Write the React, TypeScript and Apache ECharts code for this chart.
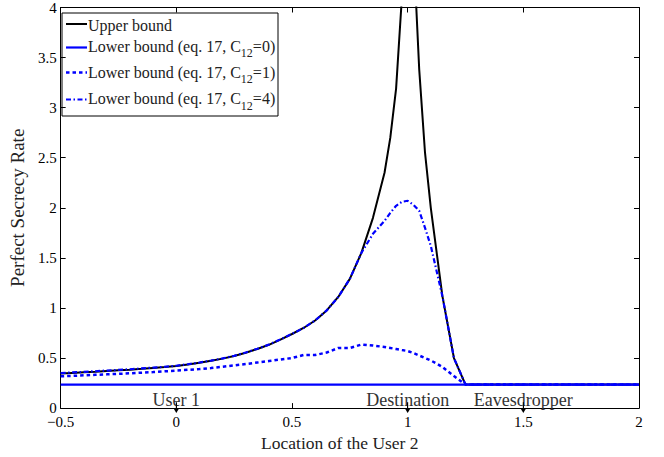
import React, { useEffect, useRef } from 'react';
import * as echarts from 'echarts';

// Location of User 2 (x axis samples)
const xs = [
  -0.5, -0.45, -0.4, -0.35, -0.3, -0.25, -0.2, -0.15, -0.1, -0.05,
  0, 0.05, 0.1, 0.15, 0.2, 0.25, 0.3, 0.35, 0.4, 0.45,
  0.5, 0.55, 0.6, 0.65, 0.7, 0.75, 0.8, 0.85, 0.9, 0.925,
  0.95, 0.975, 1.0, 1.025, 1.05, 1.075, 1.1, 1.125, 1.15, 1.2,
  1.25, 1.3, 1.5, 2.0,
];

const upperBound = [
  0.345, 0.351, 0.357, 0.363, 0.37, 0.377, 0.384, 0.392, 0.401, 0.41,
  0.42, 0.436, 0.453, 0.472, 0.494, 0.52, 0.553, 0.59, 0.632, 0.684,
  0.74, 0.8, 0.875, 0.975, 1.11, 1.29, 1.55, 1.9, 2.35, 2.7,
  3.19, 4.1, 5.5, 4.6, 3.38, 2.55, 2.0, 1.56, 1.12, 0.5,
  0.235, 0.235, 0.235, 0.235,
];

const lowerC0 = [
  0.235, 0.235, 0.235, 0.235, 0.235, 0.235, 0.235, 0.235, 0.235, 0.235,
  0.235, 0.235, 0.235, 0.235, 0.235, 0.235, 0.235, 0.235, 0.235, 0.235,
  0.235, 0.235, 0.235, 0.235, 0.235, 0.235, 0.235, 0.235, 0.235, 0.235,
  0.235, 0.235, 0.235, 0.235, 0.235, 0.235, 0.235, 0.235, 0.235, 0.235,
  0.235, 0.235, 0.235, 0.235,
];

const lowerC1 = [
  0.317, 0.322, 0.327, 0.332, 0.337, 0.342, 0.348, 0.354, 0.36, 0.367,
  0.374, 0.382, 0.39, 0.4, 0.413, 0.426, 0.44, 0.455, 0.47, 0.485,
  0.5, 0.53, 0.53, 0.555, 0.6, 0.6, 0.635, 0.625, 0.61, 0.6,
  0.59, 0.58, 0.57, 0.55, 0.525, 0.5, 0.475, 0.445, 0.41, 0.32,
  0.235, 0.235, 0.235, 0.235,
];

const lowerC4 = [
  0.35, 0.356, 0.362, 0.368, 0.375, 0.381, 0.388, 0.396, 0.404, 0.413,
  0.423, 0.438, 0.455, 0.474, 0.496, 0.522, 0.555, 0.592, 0.634, 0.685,
  0.741, 0.8, 0.875, 0.975, 1.11, 1.29, 1.55, 1.74, 1.87, 1.95,
  2.02, 2.06, 2.07, 2.03, 1.97, 1.8, 1.62, 1.37, 1.12, 0.5,
  0.235, 0.235, 0.235, 0.235,
];

const markerX = [0, 1, 1.5];
const markerLabels = ['User 1', 'Destination', 'Eavesdropper'];

const seriesNames = [
  'Upper bound',
  'Lower bound (eq. 17, C12=0)',
  'Lower bound (eq. 17, C12=1)',
  'Lower bound (eq. 17, C12=4)',
];
const legendParts: [string, string, string][] = [
  ['Upper bound', '', ''],
  ['Lower bound (eq. 17, C', '12', '=0)'],
  ['Lower bound (eq. 17, C', '12', '=1)'],
  ['Lower bound (eq. 17, C', '12', '=4)'],
];

const FONT = 'Liberation Serif, Times New Roman, serif';

const lineStyles = [
  { color: '#000000', width: 2, type: 'solid' as any },
  { color: '#0000ff', width: 2.2, type: 'solid' as any },
  { color: '#0000ff', width: 2.5, type: [3.5, 3] as any },
  { color: '#0000ff', width: 2.2, type: [5, 2.5, 1.5, 2.5] as any },
];

const seriesValues = [upperBound, lowerC0, lowerC1, lowerC4];

export default function App() {
  const ref = useRef<HTMLDivElement>(null);

  useEffect(() => {
    if (!ref.current) return;
    const chart = echarts.init(ref.current, null, { renderer: 'svg' });

    const lineSeries = seriesValues.map((vals, i) => ({
      type: 'line',
      name: seriesNames[i],
      data: xs.map((x, j) => [x, vals[j]]),
      showSymbol: false,
      symbol: 'none',
      clip: true,
      lineStyle: {
        color: lineStyles[i].color,
        width: lineStyles[i].width,
        type: lineStyles[i].type,
      },
      itemStyle: { color: lineStyles[i].color },
      z: 2 + i,
    }));

    const markerSeries = {
      type: 'custom',
      name: 'markers',
      clip: false,
      z: 20,
      data: markerX.map((x) => [x, 0]),
      renderItem: (params: any, api: any) => {
        const idx = params.dataIndex;
        const p = api.coord([api.value(0), 0]);
        return {
          type: 'group',
          children: [
            {
              type: 'text',
              style: {
                text: markerLabels[idx],
                x: p[0],
                y: p[1] - 8,
                align: 'center',
                verticalAlign: 'middle',
                fill: '#333',
                fontSize: 18,
                fontFamily: FONT,
              },
            },
            {
              type: 'line',
              shape: { x1: p[0], y1: p[1] - 6, x2: p[0], y2: p[1] + 2 },
              style: { stroke: '#000', lineWidth: 1 },
            },
            {
              type: 'polygon',
              shape: {
                points: [
                  [p[0] - 3, p[1] + 0],
                  [p[0] + 3, p[1] + 0],
                  [p[0], p[1] + 5],
                ],
              },
              style: { fill: '#000' },
            },
          ],
        };
      },
    };

    // legend drawn as graphic
    const lgLeft = 62;
    const lgTop = 13;
    const lgW = 216;
    const lgH = 103;
    const textYs = [25, 46, 72, 98.5];
    const sampleYs = [24, 47.5, 72.5, 99.5];
    const legendChildren: any[] = [
      {
        type: 'rect',
        shape: { x: lgLeft, y: lgTop, width: lgW, height: lgH },
        style: { fill: '#fff', stroke: '#000', lineWidth: 1 },
      },
    ];
    legendParts.forEach((parts, i) => {
      const ls = lineStyles[i];
      legendChildren.push({
        type: 'line',
        shape: { x1: lgLeft + 4, y1: sampleYs[i], x2: lgLeft + 25, y2: sampleYs[i] },
        style: {
          stroke: ls.color,
          lineWidth: ls.width,
          lineDash: Array.isArray(ls.type) ? ls.type : null,
        },
      });
      const txt = parts[1]
        ? `{n|${parts[0]}}{s|${parts[1]}}{n|${parts[2]}}`
        : `{n|${parts[0]}}`;
      legendChildren.push({
        type: 'text',
        style: {
          text: txt,
          x: lgLeft + 26,
          y: textYs[i],
          align: 'left',
          verticalAlign: 'middle',
          fill: '#222',
          rich: {
            n: { fontSize: 16, fontFamily: FONT, lineHeight: 18, fill: '#222', color: '#222' },
            s: {
              fontSize: 12,
              fontFamily: FONT,
              lineHeight: 12,
              padding: [14, 0, 0, 0],
              fill: '#222',
              color: '#222',
            },
          },
        },
      });
    });

    const axisCommon = {
      axisLine: { show: true, onZero: false, lineStyle: { color: '#000', width: 1 } },
      axisTick: { show: true, inside: true, length: 5, lineStyle: { color: '#000', width: 1 } },
      splitLine: { show: false },
    };

    chart.setOption({
      animation: false,
      backgroundColor: '#ffffff',
      textStyle: { fontFamily: FONT },
      grid: { left: 53, right: 25, top: 7, bottom: 43, containLabel: false },
      xAxis: [
        {
          type: 'value',
          min: -0.5,
          max: 2,
          interval: 0.5,
          position: 'bottom',
          ...axisCommon,
          axisLabel: {
            color: '#000',
            fontFamily: FONT,
            fontSize: 15,
            lineHeight: 13,
            margin: 7,
            formatter: (v: number) => (v < 0 ? '\u2212' + Math.abs(v) : String(v)),
          },
          name: 'Location of the User 2',
          nameLocation: 'middle',
          nameGap: 19,
          nameTextStyle: { color: '#222', fontFamily: FONT, fontSize: 17.5, padding: [0, 20, 0, 0] },
        },
        {
          type: 'value',
          min: -0.5,
          max: 2,
          interval: 0.5,
          position: 'top',
          ...axisCommon,
          axisLabel: { show: false },
        },
      ],
      yAxis: [
        {
          type: 'value',
          min: 0,
          max: 4,
          interval: 0.5,
          position: 'left',
          ...axisCommon,
          axisLabel: { color: '#000', fontFamily: FONT, fontSize: 15, lineHeight: 12, margin: 4 },
          name: 'Perfect Secrecy Rate',
          nameLocation: 'middle',
          nameGap: 25,
          nameTextStyle: { color: '#222', fontFamily: FONT, fontSize: 19 },
        },
        {
          type: 'value',
          min: 0,
          max: 4,
          interval: 0.5,
          position: 'right',
          ...axisCommon,
          axisLabel: { show: false },
        },
      ],
      series: [...lineSeries, markerSeries],
      graphic: [{ type: 'group', z: 100, children: legendChildren }],
    });

    return () => chart.dispose();
  }, []);

  return (
    <div
      ref={ref}
      style={{ position: 'fixed', left: 0, top: 0, width: 664, height: 457, background: '#fff' }}
    />
  );
}
